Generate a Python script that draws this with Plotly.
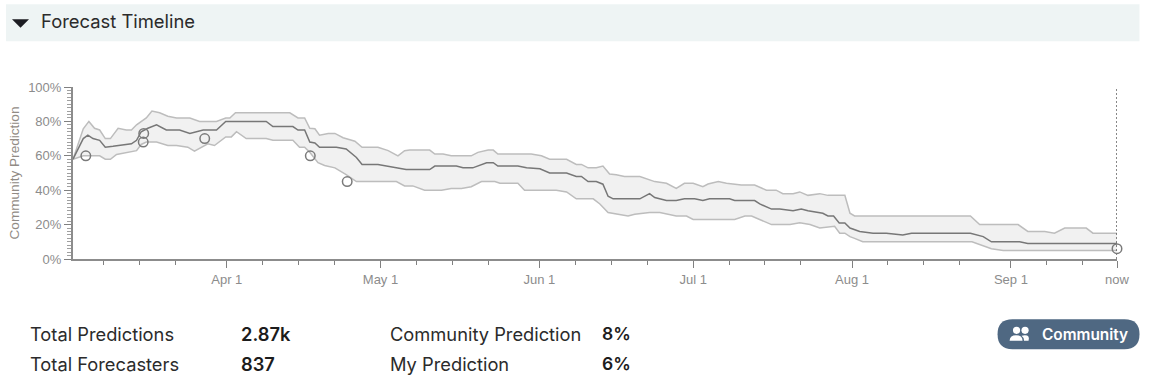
import pandas as pd
import plotly.graph_objects as go

W, H = 1153, 391
L, R, T, B = 73, 1117.5, 87, 259.5

START = pd.Timestamp("2022-03-02")
NOW_DAY = 203.7

median_days = [0,1,2,2.9,3.9,5.2,6.3,7.8,11.4,12.4,13.3,14.6,16.3,18.2,20.8,22.8,25.4,28,29.8,37.7,39,42.9,43.9,45.2,46.2,47.2,48.1,51.4,53.3,55.3,56.4,59.5,
    63.7,65,69.6,70.6,74.8,76.1,78,80.7,82,82.9,86.8,88.5,91.1,93,96.3,98.2,99.2,100.5,102.1,103.4,104.4,105.4,110.6,112.5,113.5,115.8,117.7,119.3,121.3,122.9,124.2,128.1,129.1,133,
    134,136.3,137.9,140.5,142.1,143.4,146.3,147.3,148.4,149.5,150.6,151.6,153.5,156.1,158.7,161,161.9,163.6,175.1,177.6,179.2,184.7,186.3,202.9,203.7]
median_vals = [58,64,70,72,70,69,65,65.5,67,69,74,76,78,75,75,73,75,75,80,80,77,77,75,75,68,67.5,65,65,64,59,55,55,
    52.7,52,52,54,54,53,53,56,56,54,54,53,52.5,50,50,48,48,45,45,43.5,36.5,35,35,38,35.7,34,34,35,35,34,35,35,34,34,
    32,29,29,28,29,28,26.6,25,25,21,21,18,16,15,15,14,14,15,15,13,10,10,9,9,9]

upper_days = [0,2,3.1,4.2,5.2,6.3,7.3,8.8,10.4,11.4,12.4,13.3,14.3,15.4,16.9,18.5,20.2,22.8,24.7,28,29.8,30.6,31.7,42.3,43.9,45.2,46.2,47.2,48.1,49.8,51.1,52.7,55,56.4,59.5,
    61.5,63.4,64.7,65.7,69.6,70.6,72.2,73.8,77.7,79,81,82,82.9,89.4,91.4,93,96.3,98.2,99.2,100.5,102.1,103.4,104.7,106,107.6,110.6,113.5,115.8,117.7,119.3,121,122.9,123.9,125.9,127.5,130.4,133,
    134,135.3,137.2,138.5,140.5,141.8,143.4,145.7,147.3,150.6,151.6,152.5,175.1,176.9,184.4,186.3,189.6,191.5,193.5,197.7,199,203.7]
upper_vals = [58,75.7,80,76,75,70,70,76,75,75,78,80,82,86,85,83,82,82,80,80,82,82,85,85,82,82,76,75.7,72,73,73,70.5,68.5,65,65,
    63,60,63,63.3,63.3,61,61,60,60,62,63.3,63.3,61,61,60,58,58,55,55,53,53,54,49.4,49,48,48,45,44,41,44,44,42,43.6,45,44,43,43,
    41.5,40,40,38,38,39,37,38,37,37,26.6,25,25,20,20,16,16,15,18,18,15,15]

lower_days = [0,2,2.9,5.2,6.3,7.3,8.5,10.4,12.4,13.3,14.3,16.3,18.5,20.2,22.4,23.7,25,26.3,27.6,29.8,30.9,31.9,33.8,37.7,39,42.9,44.2,45.2,46.2,47.8,49.1,51.1,53.3,55.3,
    63.1,64.7,66.3,68.6,71.9,73.8,75.8,77.7,79.7,82.3,83.3,86.8,88.1,94.3,96.3,98.2,101.5,102.8,104.4,106,108.3,109.6,112.5,114.5,117.7,119.7,121,129.1,131.1,132.4,
    134,136.3,139.9,141.8,143.8,145.7,148.6,149.6,150.6,151.6,152.5,154.1,175.4,179.2,181.5,203.7]
lower_vals = [58,60,60,60,58,58,60.8,62,63,66.6,68,68,66,66,65,62.7,64.7,67,66,71,71,74,70,70,69,69,65,65,62,56,54.4,53,49,45,
    45,42.5,42.5,40,40,41,41,42,45,45,44,44,40,40,39,35,35,32,27,26,25,26,27,27,25,25,23,23,25,25,
    22.8,20,20,21,20,18,19,15,15,13,12,10,10,6,5,5]

forecast_days = [2.5,13.8,13.7,25.7,46.3,53.5,203.7]
forecast_vals = [60,73,68,70,60,45,6]

major_labels = ["Apr 1","May 1","Jun 1","Jul 1","Aug 1","Sep 1","now"]
major_dates = ["2022-04-01","2022-05-01","2022-06-01","2022-07-01","2022-08-01","2022-09-01"]
minor_dates = ["2022-03-08","2022-03-15","2022-03-22","2022-04-08","2022-04-15","2022-04-22","2022-05-08","2022-05-15","2022-05-22",
    "2022-06-08","2022-06-15","2022-06-22","2022-07-08","2022-07-15","2022-07-22","2022-08-08","2022-08-15","2022-08-22","2022-09-08","2022-09-15"]
y_ticks = [0,20,40,60,80,100]
y_labels = ["0%","20%","40%","60%","80%","100%"]

stat_rows = [("Total Predictions","2.87k","Community Prediction","8%"),("Total Forecasters","837","My Prediction","6%")]

def dates(days):
    return [START + pd.Timedelta(days=d) for d in days]
now = START + pd.Timedelta(days=NOW_DAY)

def px(x): return (x - L) / (R - L)
def py(y): return (B - y) / (B - T)

fig = go.Figure()
fig.add_trace(go.Scatter(x=dates(upper_days) + dates(lower_days)[::-1], y=upper_vals + lower_vals[::-1],
    fill="toself", fillcolor="#f1f1f1", mode="none", hoverinfo="skip", showlegend=False))
for d, v in ((upper_days, upper_vals), (lower_days, lower_vals)):
    fig.add_trace(go.Scatter(x=dates(d), y=v, mode="lines", line=dict(color="#bdbdbd", width=1.5), hoverinfo="skip", showlegend=False))
fig.add_trace(go.Scatter(x=dates(median_days), y=median_vals, mode="lines", line=dict(color="#777777", width=1.5), hoverinfo="skip", showlegend=False))
fig.add_trace(go.Scatter(x=[now, now], y=[0, 100], mode="lines", cliponaxis=False, line=dict(color="#555555", width=1.4, dash="2px,2px"), hoverinfo="skip", showlegend=False))
fig.add_trace(go.Scatter(x=dates(forecast_days), y=forecast_vals, mode="markers", cliponaxis=False,
    marker=dict(size=9.5, color="rgba(0,0,0,0)", line=dict(color="#7a7a7a", width=1.5)), hoverinfo="skip", showlegend=False))

TICK = dict(family="Liberation Sans, Arial, sans-serif", size=13, color="#8c8c8c")
fig.update_xaxes(range=[START, now], tickmode="array", tickvals=major_dates + [now], ticktext=major_labels, ticks="outside", ticklen=7, tickwidth=1.2,
    tickcolor="#808080", showline=True, linecolor="#8c8c8c", linewidth=2, showgrid=False, zeroline=False, tickfont=TICK,
    minor=dict(tickmode="array", tickvals=minor_dates, ticks="outside", ticklen=4, tickwidth=1.2, tickcolor="#808080", showgrid=False))
fig.update_yaxes(range=[0, 100], tickmode="array", tickvals=y_ticks, ticktext=y_labels, ticks="outside", ticklen=7, tickwidth=1.2,
    tickcolor="#808080", showline=True, linecolor="#8c8c8c", linewidth=2, showgrid=False, zeroline=False, tickfont=TICK,
    minor=dict(dtick=2, tick0=0, ticks="outside", ticklen=4, tickwidth=1, tickcolor="#a0a0a0", showgrid=False),
    title=dict(text="Community Prediction", font=dict(family="Liberation Sans, Arial, sans-serif", size=13.6, color="#918b85"), standoff=5))

shapes = [
    dict(type="rect", xref="paper", yref="paper", x0=px(6), x1=px(1140), y0=py(4), y1=py(41), fillcolor="#eef4f4", line_width=0, layer="below"),
    dict(type="path", xref="paper", yref="paper", fillcolor="#1c1c22", line_width=0,
         path=f"M {px(12)} {py(19)} L {px(29)} {py(19)} L {px(20.5)} {py(27.5)} Z"),
]
a, b, c, d, r = px(998), px(1140), py(320), py(350), 15
rx, ry = r / (R - L), r / (B - T)
shapes.append(dict(type="path", xref="paper", yref="paper", fillcolor="#4f6882", line_width=0,
    path=f"M {a+rx} {c} L {b-rx} {c} Q {b} {c} {b} {c-ry} Q {b} {d} {b-rx} {d} L {a+rx} {d} Q {a} {d} {a} {d+ry} Q {a} {c} {a+rx} {c} Z"))
for cx, rad in ((1017.0, 3.6), (1025.5, 3.6)):
    shapes.append(dict(type="circle", xref="paper", yref="paper", fillcolor="white", line_width=0,
        x0=px(cx-rad), x1=px(cx+rad), y0=py(331+rad), y1=py(331-rad)))
shapes.append(dict(type="path", xref="paper", yref="paper", fillcolor="white", line_width=0,
    path=f"M {px(1010)} {py(341.5)} Q {px(1010.5)} {py(336)} {px(1016.5)} {py(336)} Q {px(1023)} {py(336)} {px(1023)} {py(341.5)} Z"))
shapes.append(dict(type="path", xref="paper", yref="paper", fillcolor="white", line_width=0,
    path=f"M {px(1024.5)} {py(341.5)} Q {px(1024.5)} {py(338)} {px(1022)} {py(336.4)} Q {px(1031)} {py(334.5)} {px(1029)} {py(341.5)} Z"))

def note(x, y, text, size=18.3, color="#2b2b2b", weight=400, anchor="left"):
    return dict(xref="paper", yref="paper", x=px(x - 2), y=py(y), text=text, showarrow=False, xanchor=anchor, yanchor="middle",
                align="left", font=dict(family="Inter, sans-serif", size=size, color=color, weight=weight))

notes = [note(41, 21, "Forecast Timeline", size=18.4), note(1042.7, 335, "Community", size=15.4, color="white", weight=600)]
for (a1, v1, a2, v2), y in zip(stat_rows, (334.5, 364.5)):
    notes += [note(30, y, a1), note(241, y, v1, weight=600, color="#1c1c1c"), note(390, y, a2), note(602, y, v2, size=17.5, weight=600, color="#1c1c1c")]

fig.update_layout(width=W, height=H, autosize=False, paper_bgcolor="white", plot_bgcolor="white",
    margin=dict(l=L, r=W-R, t=T, b=H-B, pad=0), shapes=shapes, annotations=notes, showlegend=False, hovermode=False)

fig.write_html("out.html", config=dict(displayModeBar=False), post_script="document.body.style.margin='0';document.documentElement.style.overflow='hidden';")
